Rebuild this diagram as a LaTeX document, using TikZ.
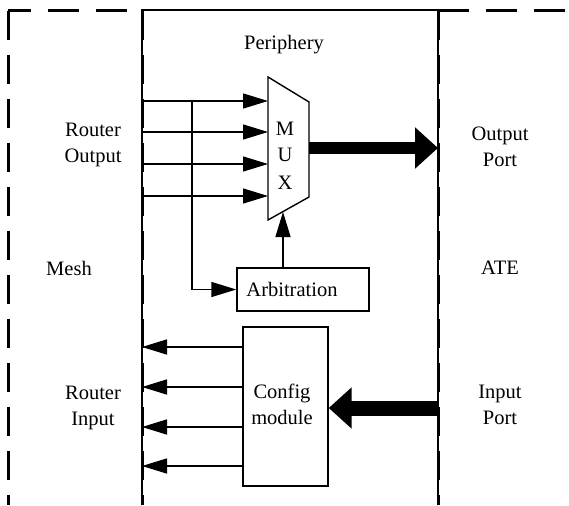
\documentclass[tikz,border=0pt]{standalone}
\usepackage{fontspec}
\setmainfont{Liberation Serif}
\usetikzlibrary{arrows.meta}
\begin{document}
\begin{tikzpicture}[x=1pt,y=-1pt,
  thinline/.style={line width=1.4pt},
  outer/.style={line width=3pt,dash pattern=on 29pt off 15pt},
  outerh/.style={line width=3pt,dash pattern=on 31pt off 17pt,dash phase=8pt},
  sarrow/.style={thinline,-{Triangle[length=25pt,width=15pt]}},
  barrow/.style={-{Triangle[length=23pt,width=40pt]}},
  lbl/.style={font=\fontsize{20.5}{26}\selectfont,align=center,inner sep=0pt},
  box/.style={draw,thinline,inner sep=0pt}]
\useasboundingbox (0,0) rectangle (569,505);
% outer dashed regions
\draw[outerh] (8,11) -- (142,11);
\draw[outer] (8,11) -- (8,505);
\draw[outerh,dash phase=0pt] (438,11) -- (569,11);
% periphery
\draw[thinline] (142,505) -- (142,10) -- (438,10) -- (438,505);
\draw[outer] (142,11) -- (142,505);
\draw[outer] (438,11) -- (438,505);
% labels
\node[lbl] (periph) at (284,45) {Periphery};
\node[lbl] (rout) at (93,145) {Router\\Output};
\node[lbl] (mesh) at (69,268) {Mesh};
\node[lbl] (rin) at (93,408) {Router\\Input};
\node[lbl] (oport) at (500,147) {Output\\Port};
\node[lbl] (ate) at (500,268) {ATE};
\node[lbl] (iport) at (500,405) {Input\\Port};
% MUX
\coordinate (mtl) at (268,77);
\coordinate (mtr) at (309,102);
\coordinate (mbr) at (309,197);
\coordinate (mbl) at (268,220);
\draw[thinline,fill=white] (mtl) -- (mtr) -- (mbr) -- (mbl) -- cycle;
\node[lbl] (mM) at (285,129) {M};
\node[lbl] (mU) at (285,155) {U};
\node[lbl] (mX) at (285,183) {X};
% MUX inputs
\foreach \i/\y in {1/101,2/132,3/164,4/196}{
  \coordinate (p\i) at (142,\y);
  \coordinate (m\i) at (268,\y);
  \draw[sarrow] (p\i) -- (m\i);
}
% Arbitration
\node[box,minimum width=132pt,minimum height=43pt] (arb) at (303,289.5) {};
\node[lbl] (arbt) at (292,289.5) {Arbitration};
\coordinate (tap) at (192,101);
\draw[sarrow] (tap) |- (arb.west);
\coordinate (mbot) at (283,212);
\draw[sarrow] (arb.north -| mbot) -- (mbot);
% output thick arrow
\coordinate (mout) at (309,148);
\coordinate (oedge) at (438,148);
\draw[barrow,line width=12pt] (mout) -- (oedge);
% config module
\node[box,minimum width=85pt,minimum height=159pt] (cfg) at (285.5,406.5) {};
\node[lbl] (cfgt) at (282,404) {Config\\module};
\foreach \i/\y in {1/347,2/387,3/427,4/466}{
  \coordinate (c\i) at (243,\y);
  \coordinate (r\i) at (142,\y);
  \draw[sarrow] (c\i) -- (r\i);
}
\coordinate (iedge) at (438,408);
\draw[barrow,line width=15pt] (iedge) -- (cfg.east |- iedge);
\end{tikzpicture}
\end{document}
